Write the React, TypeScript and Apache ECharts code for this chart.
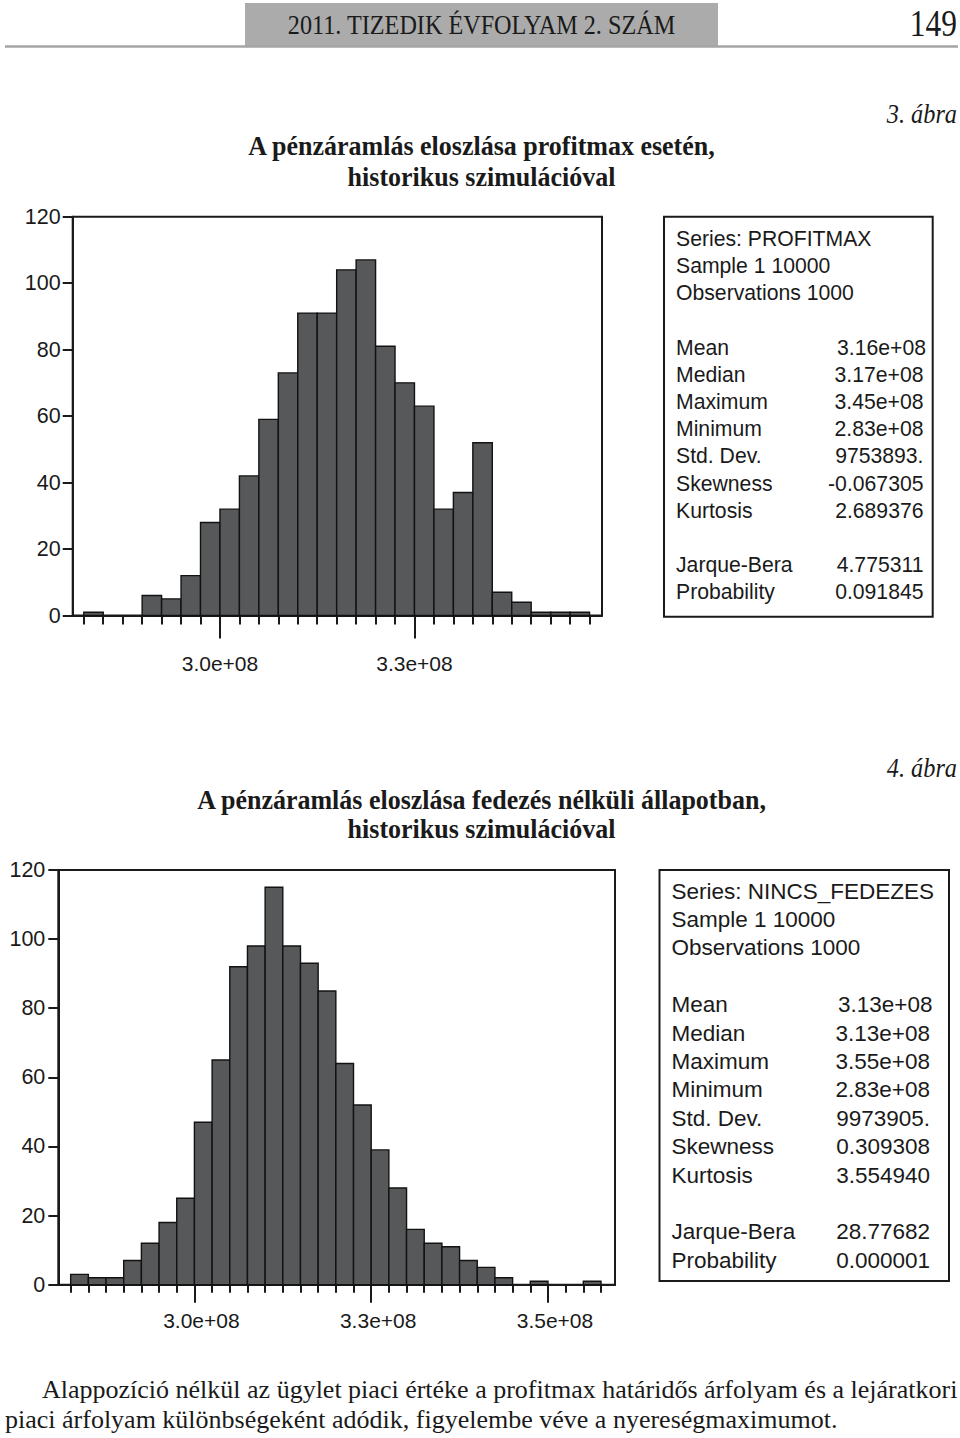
import React, { useEffect, useRef } from "react";
import * as echarts from "echarts";

// ---------- DATA ----------
const binWidth = 2.5e6;
// Chart 1 (PROFITMAX)
const binStart1 = 2.825e8;
const counts1 = [1, 0, 0, 6, 5, 12, 28, 32, 42, 59, 73, 91, 91, 104, 107, 81, 70, 63, 32, 37, 52, 7, 4, 1, 1, 1];
const xMajorValues1 = [3.0e8, 3.25e8];
const xMajorLabels1 = ["3.0e+08", "3.3e+08"];
// Chart 2 (NINCS_FEDEZES)
const binStart2 = 2.825e8;
const counts2 = [3, 2, 2, 7, 12, 18, 25, 47, 65, 92, 98, 115, 98, 93, 85, 64, 52, 39, 28, 16, 12, 11, 7, 5, 2, 0, 1, 0, 0, 1];
const xMajorValues2 = [3.0e8, 3.25e8, 3.5e8];
const xMajorLabels2 = ["3.0e+08", "3.3e+08", "3.5e+08"];

const yTickMax = 120;
const yTickStep = 20;

const statsHead1 = ["Series: PROFITMAX", "Sample 1 10000", "Observations 1000"];
const statsNames1 = ["Mean", "Median", "Maximum", "Minimum", "Std. Dev.", "Skewness", "Kurtosis"];
const statsValues1 = ["3.16e+08", "3.17e+08", "3.45e+08", "2.83e+08", "9753893.", "-0.067305", "2.689376"];
const testNames1 = ["Jarque-Bera", "Probability"];
const testValues1 = ["4.775311", "0.091845"];

const statsHead2 = ["Series: NINCS_FEDEZES", "Sample 1 10000", "Observations 1000"];
const statsNames2 = ["Mean", "Median", "Maximum", "Minimum", "Std. Dev.", "Skewness", "Kurtosis"];
const statsValues2 = ["3.13e+08", "3.13e+08", "3.55e+08", "2.83e+08", "9973905.", "0.309308", "3.554940"];
const testNames2 = ["Jarque-Bera", "Probability"];
const testValues2 = ["28.77682", "0.000001"];

const headerText = "2011. TIZEDIK ÉVFOLYAM 2. SZÁM";
const pageNumber = "149";
const figLabel1 = "3. ábra";
const figLabel2 = "4. ábra";
const title1 = ["A pénzáramlás eloszlása profitmax esetén,", "historikus szimulációval"];
const title2 = ["A pénzáramlás eloszlása fedezés nélküli állapotban,", "historikus szimulációval"];
const bodyText = [
  "Alappozíció nélkül az ügylet piaci értéke a profitmax határidős árfolyam és a lejáratkori",
  "piaci árfolyam különbségeként adódik, figyelembe véve a nyereségmaximumot.",
];

// ---------- HELPERS ----------
const SANS = "'Liberation Sans', Arial, sans-serif";
const SERIF = "'Liberation Serif', 'Times New Roman', serif";
const INK = "#1a1a1a";

function bins(start: number, counts: number[]) {
  return counts.map((c, i) => [start + i * binWidth, start + (i + 1) * binWidth, c]);
}
function edges(start: number, counts: number[]) {
  return Array.from({ length: counts.length + 1 }, (_, i) => start + i * binWidth);
}
function labelFor(values: number[], labels: string[]) {
  return (v: number) => {
    const i = values.findIndex((x) => Math.abs(x - v) < 1);
    return i >= 0 ? labels[i] : "";
  };
}

function statsBox(
  box: { x: number; y: number; w: number; h: number },
  textX: number,
  valueX: number,
  firstY: number,
  pitch: number,
  fontSize: number,
  head: string[],
  names: string[],
  values: string[],
  tNames: string[],
  tValues: string[]
) {
  const els: any[] = [
    {
      type: "rect",
      shape: { x: box.x, y: box.y, width: box.w, height: box.h },
      style: { fill: "#fff", stroke: INK, lineWidth: 2 },
    },
  ];
  const txt = (t: string, x: number, y: number, align: string) => ({
    type: "text",
    x,
    y,
    style: { text: t, fontSize, fontFamily: SANS, fill: INK, align, verticalAlign: "middle" },
  });
  head.forEach((t, i) => els.push(txt(t, textX, firstY + i * pitch, "left")));
  names.forEach((t, i) => {
    els.push(txt(t, textX, firstY + (i + 4) * pitch, "left"));
    els.push(txt(values[i], valueX + (i === 0 ? 2.5 : 0), firstY + (i + 4) * pitch, "right"));
  });
  tNames.forEach((t, i) => {
    els.push(txt(t, textX, firstY + (i + 12) * pitch, "left"));
    els.push(txt(tValues[i], valueX, firstY + (i + 12) * pitch, "right"));
  });
  return els;
}

function serifText(t: string, x: number, y: number, size: number, opts: any = {}) {
  return {
    type: "text",
    x,
    y,
    scaleX: opts.scaleX ?? 1,
    style: {
      text: t,
      fontSize: size,
      fontFamily: SERIF,
      fontWeight: opts.bold ? "bold" : "normal",
      fontStyle: opts.italic ? "italic" : "normal",
      fill: INK,
      align: opts.align ?? "center",
      verticalAlign: "middle",
    },
  };
}

export default function App() {
  const ref = useRef<HTMLDivElement>(null);

  useEffect(() => {
    document.body.style.margin = "0";
    if (!ref.current) return;
    const chart = echarts.init(ref.current, null, { renderer: "svg" });

    const grid1 = { left: 72.7, top: 216.7, width: 529.3, height: 398.8 };
    const grid2 = { left: 58.3, top: 870, width: 556.7, height: 414.7 };
    const xMin1 = 2.81075e8, xMax1 = 3.491e8;
    const xMin2 = 2.8075e8, xMax2 = 3.5948e8;

    const tickStyle = { color: INK, width: 2 };
    const minorAxis = (gridIndex: number, min: number, max: number, start: number, counts: number[], len: number) => ({
      type: "value",
      gridIndex,
      position: "bottom",
      min,
      max,
      axisLine: { show: true, onZero: false, lineStyle: { color: INK, width: 2 } },
      axisTick: { show: true, inside: false, length: len, customValues: edges(start, counts), lineStyle: tickStyle },
      axisLabel: { show: false },
      splitLine: { show: false },
    });
    const majorAxis = (
      gridIndex: number, min: number, max: number, vals: number[], labels: string[],
      len: number, margin: number, padLeft: number
    ) => ({
      type: "value",
      gridIndex,
      position: "bottom",
      min,
      max,
      axisLine: { show: false, onZero: false },
      axisTick: { show: true, inside: false, length: len, customValues: vals, lineStyle: tickStyle },
      axisLabel: {
        show: true,
        customValues: vals,
        formatter: labelFor(vals, labels),
        fontSize: 21,
        fontFamily: SANS,
        color: INK,
        margin,
        padding: [0, 0, 0, padLeft],
      },
      splitLine: { show: false },
    });
    const yAxis = (gridIndex: number, margin: number) => ({
      type: "value",
      gridIndex,
      min: 0,
      max: yTickMax,
      interval: yTickStep,
      axisLine: { show: true, lineStyle: { color: INK, width: 2 } },
      axisTick: { show: true, inside: false, length: 10, lineStyle: tickStyle },
      axisLabel: { fontSize: 21.5, fontFamily: SANS, color: INK, margin },
      splitLine: { show: false },
    });

    const renderItem = (_params: any, api: any) => {
      const c = api.value(2);
      if (!c) return null;
      const p0 = api.coord([api.value(0), c]);
      const p1 = api.coord([api.value(1), 0]);
      return {
        type: "rect",
        shape: { x: p0[0], y: p0[1], width: p1[0] - p0[0], height: p1[1] - p0[1] },
        style: { fill: "#57585a", stroke: "#121212", lineWidth: 1.4 },
      };
    };

    const graphic: any[] = [
      // header
      { type: "rect", shape: { x: 245, y: 3, width: 473, height: 43 }, style: { fill: "#ababab" } },
      { type: "line", shape: { x1: 5, y1: 46.5, x2: 958, y2: 46.5 }, style: { stroke: "#a4a4a4", lineWidth: 2.5 } },
      serifText(headerText, 481.5, 25, 27.5, { scaleX: 0.88 }),
      serifText(pageNumber, 957, 23, 37, { scaleX: 0.85, align: "right" }),
      // figure 1
      serifText(figLabel1, 957, 114, 27, { italic: true, align: "right", scaleX: 0.9 }),
      serifText(title1[0], 481.5, 146, 27.5, { bold: true, scaleX: 0.945 }),
      serifText(title1[1], 481.5, 177, 27.5, { bold: true, scaleX: 0.945 }),
      ...statsBox({ x: 664, y: 216.7, w: 268.7, h: 400 }, 676, 923.5, 238.3, 27.2, 21.2,
        statsHead1, statsNames1, statsValues1, testNames1, testValues1),
      // figure 2
      serifText(figLabel2, 957, 768, 27, { italic: true, align: "right", scaleX: 0.9 }),
      serifText(title2[0], 481.5, 800, 27.5, { bold: true, scaleX: 0.945 }),
      serifText(title2[1], 481.5, 829, 27.5, { bold: true, scaleX: 0.945 }),
      ...statsBox({ x: 659.5, y: 870, w: 289.5, h: 411 }, 671.5, 930, 891, 28.4, 22.5,
        statsHead2, statsNames2, statsValues2, testNames2, testValues2),
      // body text
      serifText(bodyText[0], 42, 1389, 26, { align: "left" }),
      serifText(bodyText[1], 5, 1419, 26, { align: "left" }),
    ];

    chart.setOption({
      animation: false,
      backgroundColor: "#fff",
      grid: [
        { ...grid1, show: true, borderColor: INK, borderWidth: 2, backgroundColor: "transparent" },
        { ...grid2, show: true, borderColor: INK, borderWidth: 2, backgroundColor: "transparent" },
      ],
      xAxis: [
        minorAxis(0, xMin1, xMax1, binStart1, counts1, 9),
        majorAxis(0, xMin1, xMax1, xMajorValues1, xMajorLabels1, 23, 37, 0),
        minorAxis(1, xMin2, xMax2, binStart2, counts2, 8),
        majorAxis(1, xMin2, xMax2, xMajorValues2, xMajorLabels2, 18, 25, 14),
      ],
      yAxis: [yAxis(0, 12), yAxis(1, 13)],
      series: [
        {
          type: "custom",
          xAxisIndex: 0,
          yAxisIndex: 0,
          renderItem,
          encode: { x: [0, 1], y: 2 },
          data: bins(binStart1, counts1),
        },
        {
          type: "custom",
          xAxisIndex: 2,
          yAxisIndex: 1,
          renderItem,
          encode: { x: [0, 1], y: 2 },
          data: bins(binStart2, counts2),
        },
      ],
      graphic,
    });

    return () => chart.dispose();
  }, []);

  return <div ref={ref} style={{ width: 960, height: 1438, background: "#fff" }} />;
}
